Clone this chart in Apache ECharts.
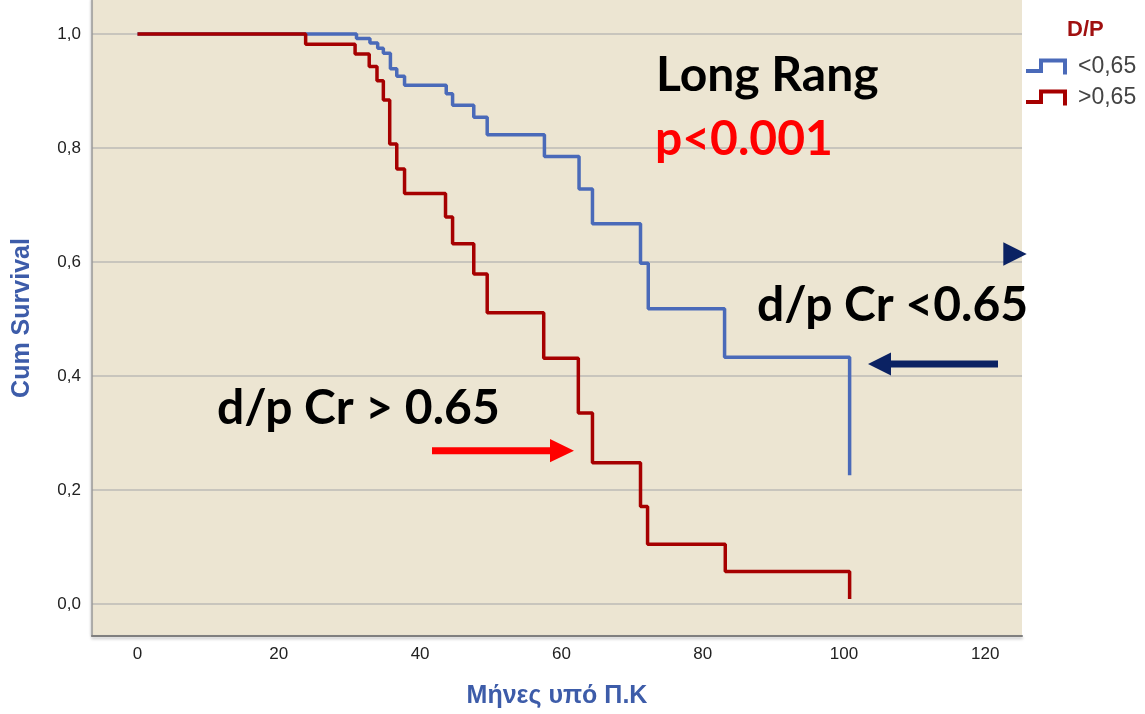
<!DOCTYPE html>
<html>
<head>
<meta charset="utf-8">
<script src="https://cdn.jsdelivr.net/npm/echarts@6/dist/echarts.min.js"></script>
<style>
    html, body { margin: 0; padding: 0; background: #fff; }
    #main { width: 1145px; height: 714px; }
</style>
</head>
<body>
<div id="main"></div>
<script>
// D/P < 0,65 (months, cum survival)
let lowTimes = [0, 31.0, 32.9, 34.0, 34.8, 35.8, 36.7, 37.8, 43.7, 44.6, 47.6, 49.5, 57.6, 62.5, 64.4, 71.2, 72.3, 83.1, 100.8];
let lowSurv = [1.0, 0.992, 0.984, 0.975, 0.966, 0.939, 0.926, 0.910, 0.895, 0.875, 0.854, 0.823, 0.785, 0.728, 0.667, 0.598, 0.518, 0.433, 0.226];
// D/P > 0,65
let highTimes = [0, 23.8, 30.8, 32.8, 33.9, 34.8, 35.7, 36.7, 37.8, 43.6, 44.6, 47.6, 49.5, 57.5, 62.4, 64.4, 71.2, 72.2, 83.2, 100.8];
let highSurv = [1.0, 0.982, 0.965, 0.943, 0.918, 0.884, 0.807, 0.763, 0.720, 0.679, 0.632, 0.579, 0.511, 0.431, 0.335, 0.248, 0.171, 0.105, 0.057, 0.009];

let groupNames = ['<0,65', '>0,65'];
let xTicks = [0, 20, 40, 60, 80, 100, 120];
let yTicks = [0, 0.2, 0.4, 0.6, 0.8, 1.0];

function toPairs(times, surv) {
    let out = [];
    for (let i = 0; i < times.length; i++) {
        out.push([times[i], surv[i]]);
    }
    return out;
}

// step icon for the legend (filled outline)
let stepIcon = 'path://M0,10.5 L13,10.5 L13,0 L41,0 L41,16 L37,16 L37,4 L17,4 L17,14.5 L0,14.5 Z';

let option = {
    animation: false,
    title: {
        text: 'D/P',
        left: 1062,
        top: 14,
        textStyle: { fontFamily: 'Liberation Sans, Arial', fontWeight: 'bold', fontSize: 22, color: '#a01010' }
    },
    legend: {
        data: groupNames,
        orient: 'vertical',
        left: 1026,
        top: 55,
        padding: 0,
        itemWidth: 41,
        itemHeight: 16,
        itemGap: 8,
        icon: stepIcon,
        selectedMode: false,
        itemStyle: { borderWidth: 0 },
        textStyle: { fontFamily: 'Liberation Sans, Arial', fontSize: 23, color: '#444', padding: [0, 0, 0, 6] }
    },
    grid: {
        left: 92,
        right: 123,
        top: 0,
        bottom: 78,
        show: true,
        backgroundColor: '#ece5d2',
        borderWidth: 0
    },
    xAxis: {
        type: 'value',
        min: -6.44,
        max: 125.2,
        name: 'Μήνες υπό Π.Κ',
        nameLocation: 'middle',
        nameGap: 48,
        nameTextStyle: { fontFamily: 'Liberation Sans, Arial', fontWeight: 'bold', fontSize: 25, color: '#3d5ca9' },
        axisLine: { onZero: false, lineStyle: { color: '#7f7f7f', width: 2, shadowColor: 'rgba(0,0,0,0.25)', shadowBlur: 3, shadowOffsetY: 2 } },
        axisTick: { show: false, customValues: xTicks },
        splitLine: { show: false },
        axisLabel: { customValues: xTicks, margin: 10, fontFamily: 'Liberation Sans, Arial', fontSize: 17, color: '#222' }
    },
    yAxis: {
        type: 'value',
        min: -0.0561,
        max: 1.0596,
        name: 'Cum Survival',
        nameLocation: 'middle',
        nameGap: 57,
        nameTextStyle: { fontFamily: 'Liberation Sans, Arial', fontWeight: 'bold', fontSize: 25, color: '#3d5ca9' },
        axisLine: { onZero: false, lineStyle: { color: '#9a9a9a', width: 1.5, shadowColor: 'rgba(0,0,0,0.2)', shadowBlur: 2, shadowOffsetX: -1 } },
        axisTick: { show: false, customValues: yTicks },
        splitLine: { show: true, lineStyle: { color: '#c8c5bd', width: 2 } },
        axisLabel: {
            customValues: yTicks,
            margin: 11,
            fontFamily: 'Liberation Sans, Arial',
            fontSize: 17,
            color: '#222',
            formatter: function (v) { return v.toFixed(1).replace('.', ','); }
        }
    },
    series: [
        {
            name: groupNames[0],
            type: 'line',
            step: 'end',
            symbol: 'none',
            color: '#4a6ab9',
            lineStyle: { width: 3.5, color: '#4a6ab9' },
            data: toPairs(lowTimes, lowSurv)
        },
        {
            name: groupNames[1],
            type: 'line',
            step: 'end',
            symbol: 'none',
            color: '#a60000',
            lineStyle: { width: 3.5, color: '#a60000' },
            data: toPairs(highTimes, highSurv)
        }
    ],
    graphic: [
        { type: 'text', z: 100, style: { x: 656, y: 76, text: 'Long Rang', font: 'bold 48px Lato', fill: '#000', verticalAlign: 'middle' } },
        { type: 'text', z: 100, style: { x: 655, y: 140, text: 'p<0.001', font: 'bold 48px Lato', fill: '#ff0000', verticalAlign: 'middle' } },
        { type: 'text', z: 100, style: { x: 757, y: 306, text: 'd/p Cr <0.65', font: 'bold 48px Lato', fill: '#000', verticalAlign: 'middle' } },
        { type: 'text', z: 100, style: { x: 217, y: 409, text: 'd/p Cr > 0.65', font: 'bold 48px Lato', fill: '#000', verticalAlign: 'middle' } },
        // arrows
        { type: 'polygon', z: 100, shape: { points: [[998, 360.5], [891, 360.5], [891, 352.5], [868, 364], [891, 375.5], [891, 367.5], [998, 367.5]] }, style: { fill: '#0b2263' } },
        { type: 'polygon', z: 100, shape: { points: [[1003.3, 242.3], [1026.7, 254], [1003.3, 265.7]] }, style: { fill: '#0b2263' } },
        { type: 'polygon', z: 100, shape: { points: [[432, 447.2], [550, 447.2], [550, 439], [574, 450.7], [550, 462.3], [550, 454.2], [432, 454.2]] }, style: { fill: '#ff0000' } }
    ]
};

let myChart = echarts.init(document.getElementById('main'));
myChart.setOption(option);
</script>
</body>
</html>
